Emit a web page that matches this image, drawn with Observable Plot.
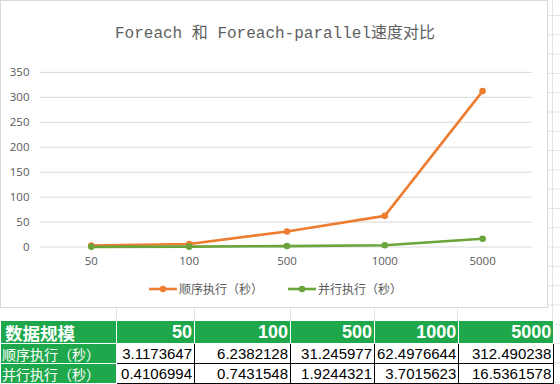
<!DOCTYPE html>
<html><head><meta charset="utf-8">
<script src="https://cdn.jsdelivr.net/npm/d3@7"></script>
<script src="https://cdn.jsdelivr.net/npm/@observablehq/plot@0.6"></script>
<style>
body{margin:0;background:#fff;width:560px;height:384px;overflow:hidden;position:relative;}
#sheet{position:absolute;left:0;top:0;width:560px;height:384px;
 background-image:linear-gradient(#e2e2e2 1px,transparent 1px);background-size:100% 19.3px;background-position:0 15px;}
.vline{position:absolute;width:1px;background:#e2e2e2;}
#chart{position:absolute;left:0;top:0;width:548px;height:308px;background:#fff;border:1px solid #d9d9d9;box-sizing:border-box;}
#title{position:absolute;left:0;top:18px;width:548px;text-align:center;font:16px "Liberation Mono","Noto Sans CJK SC",monospace;color:#5f5f5f;white-space:nowrap;}
#plot{position:absolute;left:0;top:0;}
#legend{position:absolute;left:0;top:279px;width:548px;display:flex;justify-content:center;gap:24px;font:12px "Noto Sans CJK SC",sans-serif;color:#595959;}
#legend .item{display:flex;align-items:center;gap:1px;}
table{position:absolute;left:0;top:320px;border-collapse:collapse;table-layout:fixed;}
td{padding:0 2px;overflow:hidden;white-space:nowrap;box-sizing:border-box;}
tr.head td{height:23px;line-height:21px;background:#1fa84b;color:#fff;font:bold 18px/21px "Liberation Sans","Noto Sans CJK SC",sans-serif;text-align:right;border:1px solid #fff;}
tr.head td.first{text-align:left;font:bold 17.5px/21px "Noto Sans CJK SC",sans-serif;padding-left:4px;overflow:visible;}
tr.row td{height:20px;font:15px/18px "Liberation Sans",sans-serif;color:#000;text-align:right;border:1px solid #000;background:#fff;}
tr.row td.first{background:#1fa84b;color:#fff;text-align:left;font:14px/18px "Noto Sans CJK SC",sans-serif;border:1px solid #fff;padding:0 1px;}
</style></head>
<body>
<div id="sheet"></div>
<div id="chart"><div id="title">Foreach 和 Foreach-parallel速度对比</div><div id="plot"></div><div id="legend"></div></div>
<script>
const categories = ["50", "100", "500", "1000", "5000"];
const seqValues = [3.1173647, 6.2382128, 31.245977, 62.4976644, 312.490238];
const parValues = [0.4106994, 0.7431548, 1.9244321, 3.7015623, 16.5361578];
const seqLabel = ["3.1173647", "6.2382128", "31.245977", "62.4976644", "312.490238"];
const parLabel = ["0.4106994", "0.7431548", "1.9244321", "3.7015623", "16.5361578"];
const seriesNames = ["顺序执行（秒）", "并行执行（秒）"];
const headerLabel = "数据规模";
const yTicks = [0, 50, 100, 150, 200, 250, 300, 350];
const colors = ["#ED7D31", "#6AA43A"];

// sheet column lines
const colEdges = [116, 194, 290, 374, 457, 552];
const sheet = document.getElementById("sheet");
colEdges.forEach(x => { const d = document.createElement("div"); d.className = "vline"; d.style.left = x + "px"; d.style.top = "300px"; d.style.height = "84px"; sheet.appendChild(d); });
{ const d = document.createElement("div"); d.className = "vline"; d.style.left = "552px"; d.style.top = "0px"; d.style.height = "384px"; sheet.appendChild(d); }

const data = [];
categories.forEach((c, i) => {
  data.push({cat: c, v: seqValues[i], s: seriesNames[0]});
  data.push({cat: c, v: parValues[i], s: seriesNames[1]});
});

const chart = Plot.plot({
  width: 547, height: 276,
  marginLeft: 39, marginRight: 15, marginTop: 71, marginBottom: 30,
  style: {fontFamily: "'Open Sans', sans-serif", fontSize: "11.5px", color: "#595959", background: "transparent"},
  x: {type: "point", domain: categories, padding: 0.5},
  y: {domain: [0, 350]},
  color: {domain: seriesNames, range: colors},
  marks: [
    Plot.gridY(yTicks, {stroke: "#d9d9d9", strokeOpacity: 1}),
    Plot.axisY(yTicks, {tickSize: 0, tickPadding: 11, label: null}),
    Plot.axisX({tickSize: 0, tickPadding: 10, label: null}),
    Plot.line(data, {x: "cat", y: "v", z: "s", stroke: "s", strokeWidth: 2.6}),
    Plot.dot(data, {x: "cat", y: "v", fill: "s", r: 3.3, stroke: null})
  ]
});
document.getElementById("plot").appendChild(chart);

const legend = document.getElementById("legend");
seriesNames.forEach((n, i) => {
  const it = document.createElement("div"); it.className = "item";
  it.innerHTML = `<svg width="30" height="10"><line x1="1" x2="29" y1="5" y2="5" stroke="${colors[i]}" stroke-width="2.6"/><circle cx="15" cy="5" r="3.2" fill="${colors[i]}"/></svg><span>${n}</span>`;
  legend.appendChild(it);
});

const widths = [116, 78, 96, 84, 83, 95];
const table = document.createElement("table");
const cg = document.createElement("colgroup");
widths.forEach(w => { const c = document.createElement("col"); c.style.width = w + "px"; cg.appendChild(c); });
table.appendChild(cg);
function addRow(cls, first, cells) {
  const tr = document.createElement("tr"); tr.className = cls;
  const f = document.createElement("td"); f.className = "first"; f.textContent = first; tr.appendChild(f);
  cells.forEach(c => { const td = document.createElement("td"); td.textContent = c; tr.appendChild(td); });
  table.appendChild(tr);
}
addRow("head", headerLabel, categories);
addRow("row", seriesNames[0], seqLabel);
addRow("row", seriesNames[1], parLabel);
document.body.appendChild(table);
</script>
</body></html>
